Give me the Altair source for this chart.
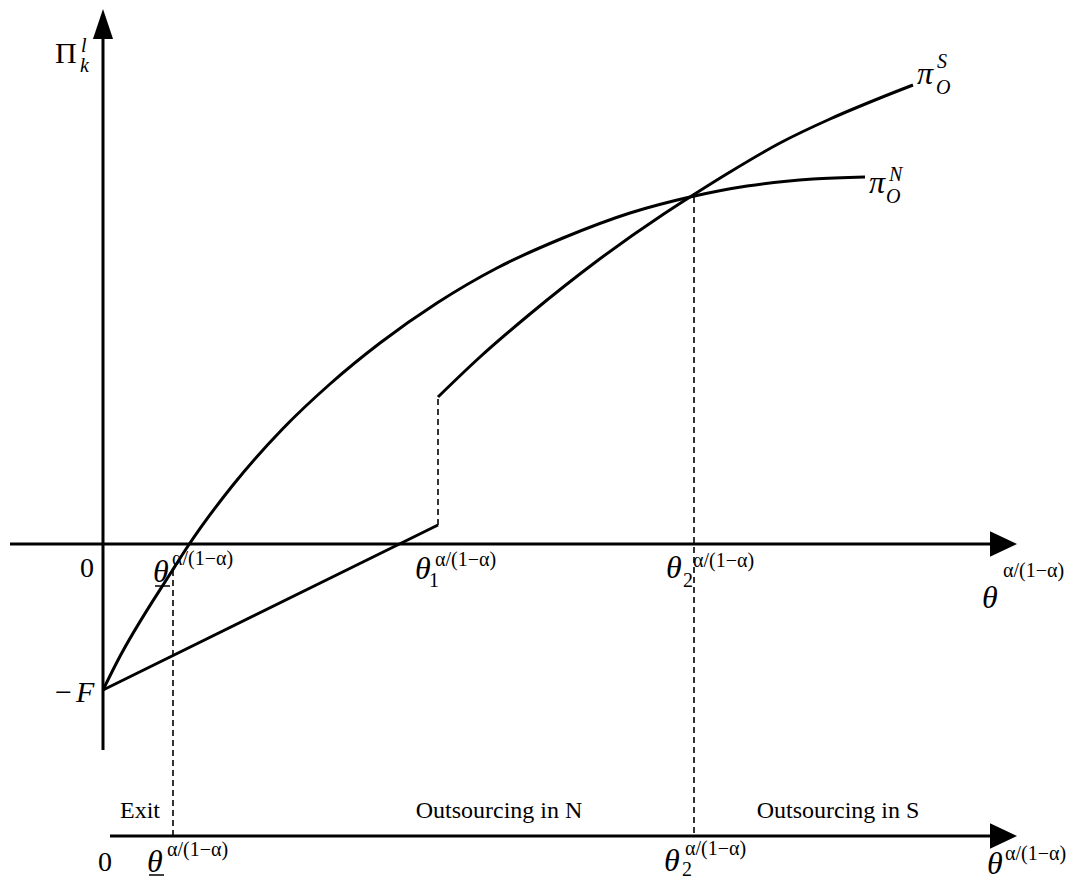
import altair as alt
import pandas as pd

# ---------------- data (diagram units) ----------------
# pi_O^N curve
piN_x = [0.00, 0.14, 0.69, 0.85, 1.30, 1.80, 2.27, 2.77, 3.34, 3.94, 4.60, 5.27, 5.87, 6.44, 7.10, 7.62]
piN_y = [-1.46, -1.18, -0.27, -0.02, 0.59, 1.155, 1.60, 2.01, 2.41, 2.76, 3.06, 3.31, 3.47, 3.58, 3.65, 3.67]
# pi_O^S curve
piS_x = [3.35, 3.77, 4.27, 4.94, 5.60, 5.87, 6.27, 6.77, 7.27, 7.77, 8.10]
piS_y = [1.47, 1.87, 2.30, 2.83, 3.295, 3.47, 3.72, 4.01, 4.25, 4.46, 4.59]
# linear profit line below theta_1
lin_x = [0.00, 3.35]
lin_y = [-1.46, 0.19]

# key thresholds
theta_low = 0.70
theta_1 = 3.35
theta_2 = 5.91
y_bottom_axis = -2.92

# axis segments: x, y, x2, y2
axes_x1 = [0.00, -0.93, 0.07]
axes_y1 = [-2.06, 0.00, y_bottom_axis]
axes_x2 = [0.00, 8.90, 8.90]
axes_y2 = [5.05, 0.00, y_bottom_axis]

# dashed guide segments
dash_x1 = [theta_1, theta_low, theta_2]
dash_y1 = [0.19, -0.26, 3.47]
dash_y2 = [1.47, y_bottom_axis, y_bottom_axis]

# arrow heads
arrR_x = [9.005, 9.005]
arrR_y = [0.0, y_bottom_axis]
arrU_x = [0.0]
arrU_y = [5.20]

# underline segments
ul_x1 = [0.52, 0.46]
ul_x2 = [0.67, 0.61]
ul_y = [-0.42, -3.31]

SUP = "α/(1−α)"
# labels: x, y, text, size
ital_x = [-0.22, -0.23, 8.14, 8.34, 8.33, 7.66, 7.86, 7.83, 0.50, 3.12, 5.63, 8.79, -0.27, 0.44, 5.61, 8.84]
ital_y = [4.92, 4.72, 4.60, 4.76, 4.50, 3.51, 3.63, 3.41, -0.38, -0.35, -0.34, -0.64, -1.58, -3.28, -3.27, -3.30]
ital_t = ["l", "k", "π", "S", "O", "π", "N", "O", "θ", "θ", "θ", "θ", "F", "θ", "θ", "θ"]
ital_s = [20, 20, 32, 20, 20, 32, 20, 20, 32, 32, 32, 32, 30, 32, 32, 32]

norm_x = [-0.48, 0.69, 3.26, 3.32, 5.80, 5.90, 9.00, -0.48, 0.64, 5.79, 5.82, 9.02]
norm_y = [4.81, -0.21, -0.43, -0.22, -0.43, -0.23, -0.33, -1.58, -3.12, -3.32, -3.11, -3.16]
norm_t = ["Π", SUP, "1", SUP, "2", SUP, SUP, "−", SUP, "2", SUP, SUP]
norm_s = [30, 20, 20, 20, 20, 20, 20, 30, 20, 20, 20, 20]

cent_x = [-0.16, 0.37, 3.96, 7.35, 0.02]
cent_y = [-0.33, -2.74, -2.74, -2.74, -3.27]
cent_t = ["0", "Exit", "Outsourcing in N", "Outsourcing in S", "0"]
cent_s = [28, 24, 24, 24, 28]

# ---------------- chart ----------------
XS = alt.Scale(domain=[-0.95, 9.63], nice=False, zero=False)
YS = alt.Scale(domain=[-3.38, 5.36], nice=False, zero=False)
FONT = "Liberation Serif"


def X(f="x"):
    return alt.X(f"{f}:Q", scale=XS, axis=None)


def Y(f="y"):
    return alt.Y(f"{f}:Q", scale=YS, axis=None)


curves = pd.DataFrame(
    {"x": piN_x + piS_x, "y": piN_y + piS_y,
     "s": ["N"] * len(piN_x) + ["S"] * len(piS_x),
     "o": list(range(len(piN_x))) + list(range(len(piS_x)))}
)
curve_layer = alt.Chart(curves).mark_line(
    color="black", strokeWidth=3, interpolate="monotone"
).encode(x=X(), y=Y(), detail="s:N", order="o:Q")

lin_df = pd.DataFrame({"x": lin_x, "y": lin_y})
lin_layer = alt.Chart(lin_df).mark_line(color="black", strokeWidth=3).encode(x=X(), y=Y())

axes_df = pd.DataFrame({"x": axes_x1, "y": axes_y1, "x2": axes_x2, "y2": axes_y2})
axes_layer = alt.Chart(axes_df).mark_rule(color="black", strokeWidth=3).encode(
    x=X(), y=Y(), x2="x2:Q", y2="y2:Q"
)

dash_df = pd.DataFrame({"x": dash_x1, "y": dash_y1, "y2": dash_y2})
dash_layer = alt.Chart(dash_df).mark_rule(
    color="black", strokeWidth=1.6, strokeDash=[6, 4]
).encode(x=X(), y=Y(), y2="y2:Q")

ul_df = pd.DataFrame({"x": ul_x1, "x2": ul_x2, "y": ul_y})
ul_layer = alt.Chart(ul_df).mark_rule(color="black", strokeWidth=1.5).encode(
    x=X(), x2="x2:Q", y=Y()
)

arrR_layer = alt.Chart(pd.DataFrame({"x": arrR_x, "y": arrR_y})).mark_point(
    shape="M-1,-0.95L1,0L-1,0.95Z", filled=True, size=729, color="black", opacity=1, strokeWidth=0
).encode(x=X(), y=Y())
arrU_layer = alt.Chart(pd.DataFrame({"x": arrU_x, "y": arrU_y})).mark_point(
    shape="M-0.67,1L0,-1L0.67,1Z", filled=True, size=900, color="black", opacity=1, strokeWidth=0
).encode(x=X(), y=Y())


def text_layer(xs, ys, ts, ss, style, align):
    df = pd.DataFrame({"x": xs, "y": ys, "t": ts, "s": ss})
    return alt.Chart(df).mark_text(
        font=FONT, fontStyle=style, align=align, baseline="alphabetic", color="black"
    ).encode(x=X(), y=Y(), text="t:N", size=alt.Size("s:Q", scale=None))


t_ital = text_layer(ital_x, ital_y, ital_t, ital_s, "italic", "left")
t_norm = text_layer(norm_x, norm_y, norm_t, norm_s, "normal", "left")
t_cent = text_layer(cent_x, cent_y, cent_t, cent_s, "normal", "center")

chart = alt.layer(
    axes_layer, dash_layer, lin_layer, curve_layer, ul_layer,
    arrR_layer, arrU_layer, t_ital, t_norm, t_cent
).properties(
    width=1058, height=874, padding=0,
    autosize=alt.AutoSizeParams(type="none"),
    background="white",
).configure_view(stroke=None)

chart.save("out.html", embed_options={"renderer": "svg", "actions": False})
